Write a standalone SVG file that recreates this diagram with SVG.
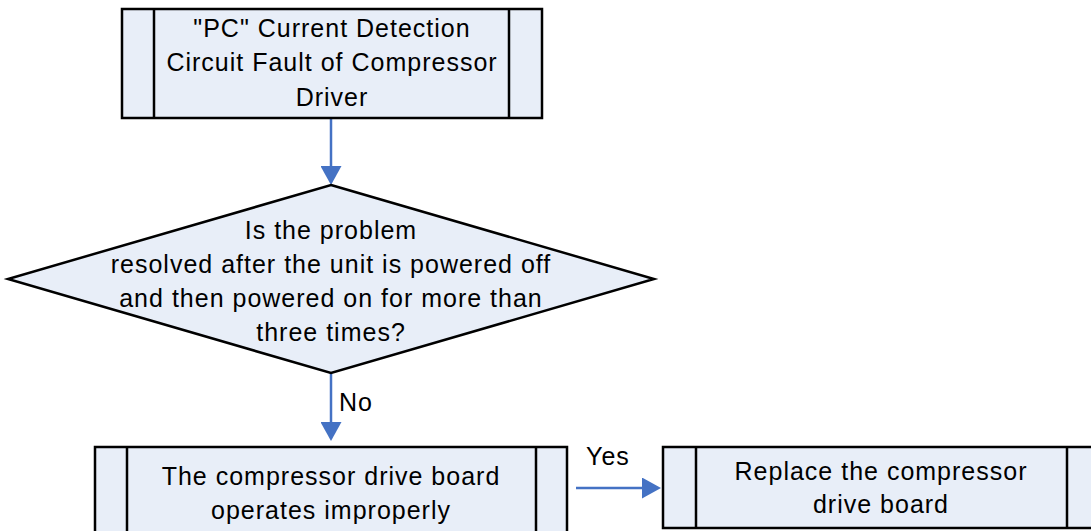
<svg xmlns="http://www.w3.org/2000/svg" width="1091" height="531" viewBox="0 0 1091 531">
  <style>
    .box { fill: #E8EEF8; stroke: #000; stroke-width: 2.5; }
    .bar { stroke: #000; stroke-width: 2.5; fill: none; }
    .t { font-family: "Liberation Sans", Arial, sans-serif; font-size: 25px; fill: #000; text-anchor: middle; letter-spacing: 1px; }
    .lbl { font-family: "Liberation Sans", Arial, sans-serif; font-size: 25px; fill: #000; letter-spacing: 1px; }
    .conn { stroke: #4472C4; stroke-width: 2.5; fill: none; }
  </style>
  <defs>
    <marker id="arrow" viewBox="0 0 19 21" markerWidth="19" markerHeight="21" refX="1" refY="10.5" orient="auto" markerUnits="userSpaceOnUse">
      <path d="M0,0 L19,10.5 L0,21 z" fill="#4472C4"/>
    </marker>
  </defs>
  <rect width="1091" height="531" fill="#fff"/>

  <g id="connectors">
    <line class="conn" x1="331" y1="118" x2="331" y2="167" marker-end="url(#arrow)"/>
    <line class="conn" x1="331" y1="373" x2="331" y2="423" marker-end="url(#arrow)"/>
    <line class="conn" x1="576" y1="488" x2="643" y2="488" marker-end="url(#arrow)"/>
    <text class="lbl" x="339" y="411">No</text>
    <text class="lbl" x="586" y="465">Yes</text>
  </g>

  <g id="node-start">
    <rect class="box" x="122" y="9" width="420" height="109"/>
    <line class="bar" x1="154" y1="9" x2="154" y2="118"/>
    <line class="bar" x1="509" y1="9" x2="509" y2="118"/>
    <text class="t" x="332" y="37">"PC" Current Detection</text>
    <text class="t" x="332" y="71">Circuit Fault of Compressor</text>
    <text class="t" x="332" y="106">Driver</text>
  </g>

  <g id="node-decision">
    <polygon class="box" points="331,185 654,279 331,373 8,279"/>
    <text class="t" x="331" y="239">Is the problem</text>
    <text class="t" x="331" y="273">resolved after the unit is powered off</text>
    <text class="t" x="331" y="307">and then powered on for more than</text>
    <text class="t" x="331" y="341">three times?</text>
  </g>

  <g id="node-fault">
    <rect class="box" x="95" y="447" width="472" height="92"/>
    <line class="bar" x1="127" y1="447" x2="127" y2="539"/>
    <line class="bar" x1="536" y1="447" x2="536" y2="539"/>
    <text class="t" x="331" y="485">The compressor drive board</text>
    <text class="t" x="331" y="519">operates improperly</text>
  </g>

  <g id="node-replace">
    <rect class="box" x="663" y="447" width="437" height="81"/>
    <line class="bar" x1="696" y1="447" x2="696" y2="528"/>
    <line class="bar" x1="1067" y1="447" x2="1067" y2="528"/>
    <text class="t" x="881" y="480">Replace the compressor</text>
    <text class="t" x="881" y="513">drive board</text>
  </g>
</svg>
